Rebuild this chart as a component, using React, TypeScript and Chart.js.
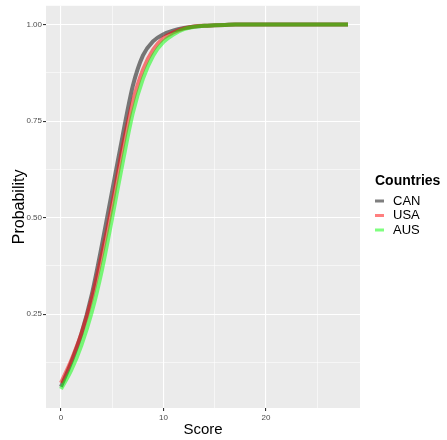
import React, { useEffect, useRef } from "react";
import { Chart, registerables } from "chart.js";

Chart.register(...registerables);

const scores = [0, 1, 2, 3, 4, 5, 6, 7, 8, 9, 10, 11, 12, 13, 14, 15, 16, 17, 18, 19, 20, 21, 22, 23, 24, 25, 26, 27, 28];
const canProb = [0.062, 0.125, 0.2, 0.3, 0.43, 0.57, 0.71, 0.84, 0.92, 0.957, 0.975, 0.985, 0.991, 0.995, 0.997, 0.998, 0.999, 1, 1, 1, 1, 1, 1, 1, 1, 1, 1, 1, 1];
const usaProb = [0.072, 0.13, 0.2, 0.29, 0.405, 0.535, 0.68, 0.8, 0.883, 0.935, 0.965, 0.98, 0.99, 0.995, 0.997, 0.998, 0.999, 1, 1, 1, 1, 1, 1, 1, 1, 1, 1, 1, 1];
const ausProb = [0.056, 0.105, 0.17, 0.255, 0.365, 0.5, 0.64, 0.77, 0.86, 0.92, 0.955, 0.975, 0.988, 0.994, 0.997, 0.998, 0.999, 1, 1, 1, 1, 1, 1, 1, 1, 1, 1, 1, 1];

const countries = ["CAN", "USA", "AUS"];
const seriesColors = ["rgba(0,0,0,0.5)", "rgba(255,0,0,0.5)", "rgba(0,255,0,0.5)"];
const legendTitle = "Countries";
const xTitle = "Score";
const yTitle = "Probability";

const xMajorTicks = [0, 10, 20];
const xMinorTicks = [5, 15, 25];
const yMajorTicks = [0.25, 0.5, 0.75, 1.0];
const yMinorTicks = [0.125, 0.375, 0.625, 0.875];

const FONT = "'Liberation Sans', Arial, sans-serif";

export default function App() {
  const canvasRef = useRef<HTMLCanvasElement | null>(null);

  useEffect(() => {
    document.body.style.margin = "0";
    const canvas = canvasRef.current;
    if (!canvas) return;

    const seriesList = [canProb, usaProb, ausProb];

    const ggPlugin = {
      id: "ggDecor",
      beforeDraw(chart: any) {
        const { ctx, chartArea } = chart;
        ctx.save();
        ctx.fillStyle = "#ffffff";
        ctx.fillRect(0, 0, chart.width, chart.height);
        ctx.fillStyle = "#ebebeb";
        ctx.fillRect(chartArea.left, chartArea.top, chartArea.right - chartArea.left, chartArea.bottom - chartArea.top);
        ctx.restore();
      },
      afterDraw(chart: any) {
        const { ctx, chartArea } = chart;
        ctx.save();
        ctx.fillStyle = "#000000";
        ctx.font = `15px ${FONT}`;
        ctx.textAlign = "center";
        ctx.textBaseline = "middle";
        ctx.fillText(xTitle, (chartArea.left + chartArea.right) / 2, 430);
        ctx.save();
        ctx.translate(20, (chartArea.top + chartArea.bottom) / 2);
        ctx.rotate(-Math.PI / 2);
        ctx.font = `16px ${FONT}`;
        ctx.fillText(yTitle, 0, 0);
        ctx.restore();
        ctx.textAlign = "left";
        ctx.textBaseline = "middle";
        ctx.font = `bold 14px ${FONT}`;
        ctx.fillText(legendTitle, 375, 181);
        ctx.font = `13px ${FONT}`;
        countries.forEach((name, i) => {
          const y = 201 + i * 14.5;
          ctx.strokeStyle = seriesColors[i];
          ctx.lineWidth = 3;
          ctx.beginPath();
          ctx.moveTo(375, y);
          ctx.lineTo(384, y);
          ctx.stroke();
          ctx.fillStyle = "#000000";
          ctx.fillText(name, 393, y);
        });
        ctx.restore();
      },
    };

    const chart = new Chart(canvas, {
      type: "line",
      data: {
        datasets: countries.map((name, i) => ({
          label: name,
          data: scores.map((s, j) => ({ x: s, y: seriesList[i][j] })),
          borderColor: seriesColors[i],
          backgroundColor: seriesColors[i],
          borderWidth: 4,
          pointRadius: 0,
          fill: false,
          cubicInterpolationMode: "monotone" as const,
          order: 3 - i,
        })),
      },
      options: {
        animation: false,
        responsive: true,
        maintainAspectRatio: false,
        layout: { padding: { left: 0, right: 87, top: 1, bottom: 0 } },
        plugins: {
          legend: { display: false },
          tooltip: { enabled: false },
          title: { display: false },
        },
        scales: {
          x: {
            type: "linear",
            min: -1.46,
            max: 29.17,
            afterBuildTicks: (scale: any) => {
              scale.ticks = [...xMajorTicks, ...xMinorTicks].sort((a, b) => a - b).map((v) => ({ value: v }));
            },
            afterFit: (scale: any) => {
              scale.height = 32;
            },
            border: { display: false },
            grid: {
              color: "#ffffff",
              lineWidth: (c: any) => (xMajorTicks.includes(c.tick?.value) ? 1.1 : 0.55),
              tickLength: 3,
              tickColor: (c: any) => (xMajorTicks.includes(c.tick?.value) ? "#333333" : "rgba(0,0,0,0)"),
            },
            ticks: {
              autoSkip: false,
              maxRotation: 0,
              padding: 2,
              color: "#4d4d4d",
              font: { family: FONT, size: 8 },
              callback: (v: any) => (xMajorTicks.includes(Number(v)) ? String(v) : ""),
            },
          },
          y: {
            type: "linear",
            min: 0.0068,
            max: 1.0486,
            afterBuildTicks: (scale: any) => {
              scale.ticks = [...yMajorTicks, ...yMinorTicks].sort((a, b) => a - b).map((v) => ({ value: v }));
            },
            afterFit: (scale: any) => {
              scale.width = 46;
            },
            border: { display: false },
            grid: {
              color: "#ffffff",
              lineWidth: (c: any) => (yMajorTicks.includes(c.tick?.value) ? 1.1 : 0.55),
              tickLength: 3,
              tickColor: (c: any) => (yMajorTicks.includes(c.tick?.value) ? "#333333" : "rgba(0,0,0,0)"),
            },
            ticks: {
              autoSkip: false,
              padding: 1,
              color: "#4d4d4d",
              font: { family: FONT, size: 8 },
              callback: (v: any) => (yMajorTicks.includes(Number(v)) ? Number(v).toFixed(2) : ""),
            },
          },
        },
      },
      plugins: [ggPlugin],
    });

    return () => {
      chart.destroy();
    };
  }, []);

  return (
    <div style={{ width: 447, height: 440, position: "relative" }}>
      <canvas ref={canvasRef} />
    </div>
  );
}
